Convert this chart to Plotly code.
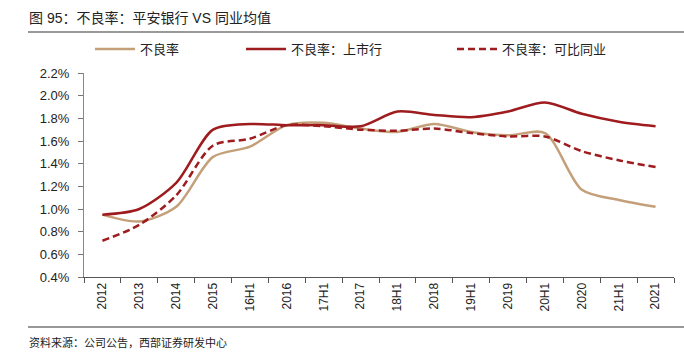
import plotly.graph_objects as go

categories = ["2012", "2013", "2014", "2015", "16H1", "2016", "17H1", "2017",
              "18H1", "2018", "19H1", "2019", "20H1", "2020", "21H1", "2021"]
pingan = [0.95, 0.89, 1.02, 1.46, 1.55, 1.74, 1.76, 1.71, 1.68, 1.75, 1.68, 1.65, 1.67, 1.17, 1.08, 1.02]
listed = [0.95, 1.00, 1.23, 1.70, 1.75, 1.74, 1.74, 1.73, 1.86, 1.83, 1.81, 1.86, 1.94, 1.84, 1.77, 1.73]
peers = [0.72, 0.86, 1.12, 1.56, 1.62, 1.74, 1.73, 1.70, 1.69, 1.71, 1.67, 1.64, 1.64, 1.51, 1.43, 1.37]
names = ["不良率", "不良率：上市行", "不良率：可比同业"]
y_ticks = [0.4, 0.6, 0.8, 1.0, 1.2, 1.4, 1.6, 1.8, 2.0, 2.2]

TAN = "#C4A07A"
RED = "#9E1B1E"
FONT = "Liberation Sans, Noto Sans CJK SC, sans-serif"

W, H = 684, 357
PL, PR, PT, PB = 84, 674, 73, 277  # plot area in pixels

def xp(px):
    return px / W

def yp(py):
    return 1 - py / H

fig = go.Figure()
fig.add_trace(go.Scatter(x=categories, y=pingan, name=names[0], mode="lines", legend="legend",
                         line=dict(color=TAN, width=2.5, shape="spline", smoothing=0.8)))
fig.add_trace(go.Scatter(x=categories, y=listed, name=names[1], mode="lines", legend="legend2",
                         line=dict(color=RED, width=2.5, shape="spline", smoothing=0.8)))
fig.add_trace(go.Scatter(x=categories, y=peers, name=names[2], mode="lines", legend="legend3",
                         line=dict(color=RED, width=2.5, shape="spline", smoothing=0.8, dash="7px,4px")))

def leg(px):
    return dict(x=xp(px), y=yp(49), xanchor="left", yanchor="middle", orientation="h",
                font=dict(size=13, family="Noto Sans CJK SC", color="#222222"),
                bgcolor="rgba(0,0,0,0)", itemwidth=40)

fig.update_layout(
    width=W, height=H,
    margin=dict(l=0, r=0, t=0, b=0, autoexpand=False),
    paper_bgcolor="white", plot_bgcolor="white",
    font=dict(family=FONT, color="#222222"),
    showlegend=True,
    legend=leg(90),
    legend2=leg(241),
    legend3=leg(452),
    xaxis=dict(domain=[xp(PL), xp(PR)], type="category", tickson="boundaries", ticks="outside", ticklen=5,
               tickcolor="#555555", showline=True, linecolor="#555555", linewidth=1,
               showgrid=False, tickangle=-90, tickfont=dict(size=12, family=FONT, color="#222222"),
               range=[-0.5, len(categories) - 0.5], fixedrange=True),
    yaxis=dict(domain=[yp(PB), yp(PT)], range=[0.4, 2.2], tickvals=y_ticks,
               ticktext=[f"{v:.1f}%" for v in y_ticks],
               ticks="outside", ticklen=5, tickcolor="#777777", showline=True,
               linecolor="#888888", linewidth=1, showgrid=False, zeroline=False,
               tickfont=dict(size=13, family=FONT, color="#222222"), ticklabelstandoff=6),
    shapes=[
        dict(type="line", xref="paper", yref="paper", x0=xp(28), x1=1.0,
             y0=yp(32), y1=yp(32), line=dict(color="#777777", width=1.5), layer="above"),
        dict(type="line", xref="paper", yref="paper", x0=xp(28), x1=1.0,
             y0=yp(327), y1=yp(327), line=dict(color="#333333", width=1.2), layer="above"),
    ],
)

fig.add_annotation(text="图 95：不良率：平安银行 VS 同业均值", xref="paper", yref="paper",
                   x=xp(27), y=yp(18), xanchor="left", yanchor="middle", showarrow=False,
                   font=dict(size=14, family="Liberation Sans, Noto Sans CJK SC", color="#222222"))
fig.add_annotation(text="资料来源：公司公告，西部证券研发中心", xref="paper", yref="paper",
                   x=xp(27), y=yp(342), xanchor="left", yanchor="middle", showarrow=False,
                   font=dict(size=11, family="Noto Sans CJK SC", color="#222222"))

fig.write_html("out.html", config={"displayModeBar": False},
               post_script="document.body.style.margin='0';")
